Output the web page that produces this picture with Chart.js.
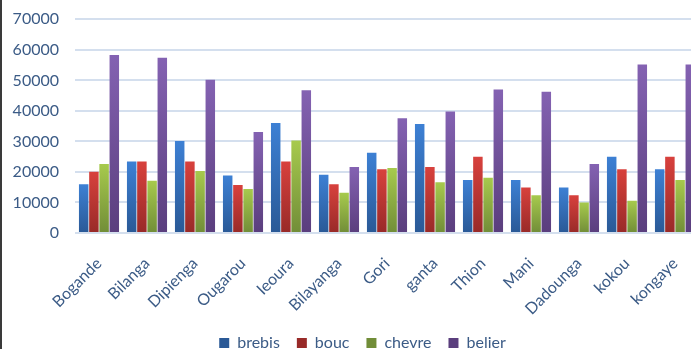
<!DOCTYPE html>
<html>
<head>
<meta charset="utf-8">
<script src="https://cdn.jsdelivr.net/npm/chart.js@4"></script>
<style>
  html, body { margin: 0; padding: 0; background: #fff; overflow: hidden; }
  #wrap { position: relative; width: 691px; height: 349px; overflow: hidden; }
  #box { position: absolute; left: 0; top: 0; width: 699px; height: 361px; }
  #edge { position: absolute; left: 0; top: 0; width: 2px; height: 349px; background: #3a3a3a; }
</style>
</head>
<body>
<div id="wrap">
  <div id="box"><canvas id="c" width="699" height="361"></canvas></div>
  <div id="edge"></div>
</div>
<script>
const categories = ["Bogande", "Bilanga", "Dipienga", "Ougarou", "Ieoura", "Bilayanga", "Gori", "ganta", "Thion", "Mani", "Dadounga", "kokou", "kongaye"];
const brebis = [16000, 23400, 30100, 18800, 36000, 19100, 26300, 35700, 17400, 17400, 14900, 25000, 20900];
const bouc   = [20100, 23400, 23400, 15700, 23400, 16000, 20900, 21600, 25000, 14900, 12400, 20900, 25000];
const chevre = [22600, 17100, 20300, 14400, 30300, 13200, 21300, 16600, 18100, 12400, 10000, 10600, 17400];
const belier = [58300, 57400, 50200, 33100, 46800, 21600, 37600, 39800, 47000, 46300, 22600, 55200, 55200];
const yTicks = [0, 10000, 20000, 30000, 40000, 50000, 60000, 70000];

const palette = {
  brebis: { flat: "#3f78c4", top: "#3d80d4", bottom: "#2a5996" },
  bouc:   { flat: "#c43c3a", top: "#d8413d", bottom: "#982a28" },
  chevre: { flat: "#8db53f", top: "#a7ca4d", bottom: "#718d38" },
  belier: { flat: "#7852a3", top: "#8462b2", bottom: "#5a3e7d" }
};

function grad(p) {
  return function (ctx) {
    if (ctx.type !== "data") return p.flat;
    const chart = ctx.chart;
    const ys = chart.scales && chart.scales.y;
    if (!ys || !chart.chartArea) return p.flat;
    const v = ctx.parsed ? ctx.parsed.y : ctx.raw;
    const top = ys.getPixelForValue(v);
    const bot = ys.getPixelForValue(0);
    if (!isFinite(top) || !isFinite(bot) || bot - top < 1) return p.flat;
    const g = chart.ctx.createLinearGradient(0, top, 0, bot);
    g.addColorStop(0, p.top);
    g.addColorStop(1, p.bottom);
    return g;
  };
}

const textColor = "#3b5b86";
const fontFamily = "Lato, 'Open Sans', sans-serif";

// shift the legend to the right, as in the reference picture
const legendShift = {
  id: "legendShift",
  afterLayout(chart) {
    const lg = chart.legend;
    if (!lg) return;
    lg.left += 13;
    lg.right += 13;
    if (lg.adjustHitBoxes) lg.adjustHitBoxes();
  }
};

new Chart(document.getElementById("c"), {
  type: "bar",
  data: {
    labels: categories,
    datasets: [
      { label: "brebis", data: brebis, backgroundColor: grad(palette.brebis) },
      { label: "bouc", data: bouc, backgroundColor: grad(palette.bouc) },
      { label: "chevre", data: chevre, backgroundColor: grad(palette.chevre) },
      { label: "belier", data: belier, backgroundColor: grad(palette.belier) }
    ]
  },
  plugins: [legendShift],
  options: {
    responsive: false,
    animation: false,
    devicePixelRatio: 1,
    categoryPercentage: 0.85,
    barPercentage: 0.93,
    layout: { padding: 0 },
    plugins: {
      tooltip: { enabled: false },
      legend: {
        position: "bottom",
        labels: {
          boxWidth: 10,
          boxHeight: 10,
          padding: 17,
          color: textColor,
          font: { family: fontFamily, size: 16 }
        }
      }
    },
    scales: {
      x: {
        grid: { display: false, drawTicks: false },
        border: { display: false },
        ticks: {
          color: textColor,
          font: { family: fontFamily, size: 16 },
          minRotation: 45,
          maxRotation: 45,
          padding: 21,
          autoSkip: false
        },
        afterFit: (s) => { s.height = 85; s.paddingRight = 0; s.paddingLeft = 0; }
      },
      y: {
        min: 0,
        max: 70000,
        afterBuildTicks: (s) => { s.ticks = yTicks.map(v => ({ value: v })); },
        grid: { color: "#d4dfee", lineWidth: 2, drawTicks: false },
        border: { display: false },
        ticks: {
          color: textColor,
          font: { family: fontFamily, size: 16 },
          padding: 16,
          callback: (v) => String(v)
        },
        afterFit: (s) => { s.width = 75; s.paddingTop = 19.3; s.paddingBottom = 0; }
      }
    }
  }
});
</script>
</body>
</html>
